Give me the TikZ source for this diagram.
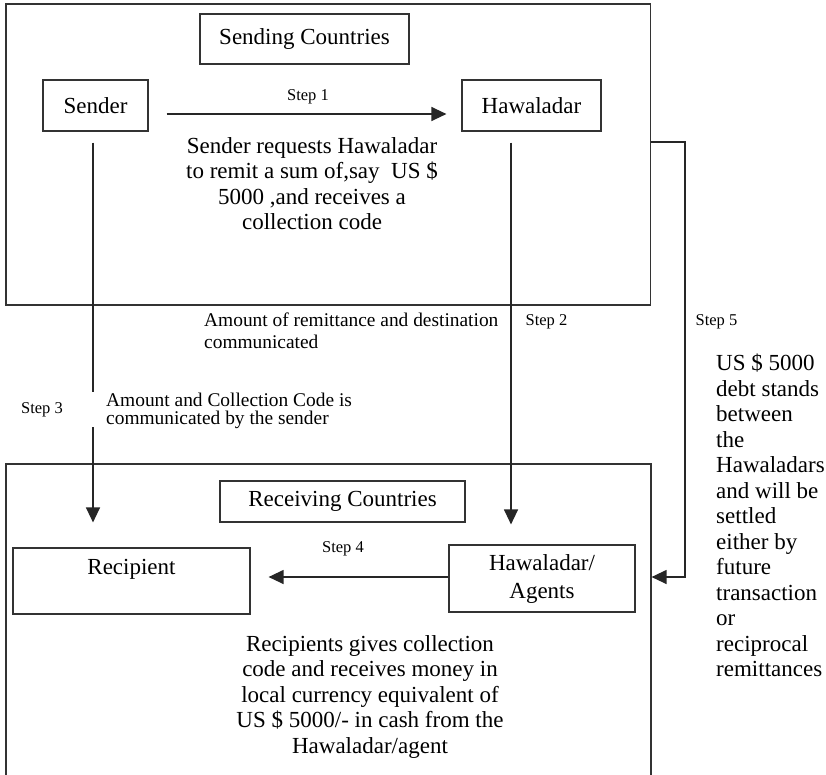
\documentclass[tikz,border=0pt]{standalone}
\usepackage{fontspec}
\setmainfont{Liberation Serif}
\usetikzlibrary{arrows.meta}
\newcommand\bigtxt{\fontsize{23}{25.5}\selectfont}
\newcommand\midtxt{\fontsize{19.4}{22}\selectfont}
\newcommand\midtighttxt{\fontsize{19.4}{18.3}\selectfont}
\newcommand\smtxt{\fontsize{16.5}{18}\selectfont}
\begin{document}
\begin{tikzpicture}[x=1pt,y=-1pt,
  box/.style={draw=black!80, line width=1.2pt, inner sep=0pt, align=center, font=\bigtxt},
  txt/.style={inner sep=0pt, font=\bigtxt},
  conn/.style={draw=black!85, line width=1.3pt},
  arr/.style={conn, -{Triangle[length=15pt,width=14pt]}},
  steplbl/.style={inner sep=0pt, font=\smtxt},
]
\useasboundingbox (0,0) rectangle (826,774);
\clip (0,0) rectangle (826,774);
\fill[white] (0,0) rectangle (826,774);

% big regions
\node[box, minimum width=644.7pt, minimum height=301pt] (sendbox) at (328.35,154.5) {};
\node[box, minimum width=645pt, minimum height=336pt] (recvbox) at (328.5,632) {};

% boxes
\node[box, minimum width=209pt, minimum height=50pt] (sendc) at (304.5,39) {Sending Countries};
\node[box, minimum width=105pt, minimum height=51pt] (sender) at (95.5,105.5) {Sender};
\node[box, minimum width=139pt, minimum height=51pt] (hawa) at (531.5,105.5) {Hawaladar};
\node[box, minimum width=245pt, minimum height=41pt] (recvc) at (342.5,501.5) {Receiving Countries};
\node[box, minimum width=237pt, minimum height=66pt] (recip) at (131.5,581) {};
\node[txt] (reciplbl) at (131.5,569) {Recipient};
\node[box, minimum width=186pt, minimum height=67pt] (agents) at (542,578.5) {Hawaladar/\\[2.5pt]Agents};

% texts
\node[txt, anchor=north, align=center] (t1) at (312,137) {Sender requests Hawaladar\\to remit a sum of,say\enspace US \$\\5000 ,and receives a\\collection code};
\node[txt, anchor=north, align=center] (t4) at (370,635) {Recipients gives collection\\code and receives money in\\local currency equivalent of\\US \$ 5000/- in cash from the\\Hawaladar/agent};
\node[txt, anchor=north west, align=left] (t5) at (716,354) {US \$ 5000\\debt stands\\between\\the\\Hawaladars\\and will be\\settled\\either by\\future\\transaction\\or\\reciprocal\\remittances};
\node[inner sep=0pt, font=\midtxt, anchor=north west, align=left] (t2) at (204,312.5) {Amount of remittance and destination\\communicated};
\node[inner sep=0pt, font=\midtighttxt, anchor=north west, align=left] (t3) at (106,392.5) {Amount and Collection Code is\\communicated by the sender};

% step labels
\node[steplbl] (s1l) at (308,97) {Step 1};
\node[steplbl] (s2l) at (546.5,322) {Step 2};
\node[steplbl] (s3l) at (42,410) {Step 3};
\node[steplbl] (s4l) at (343,549) {Step 4};
\node[steplbl] (s5l) at (716.5,322) {Step 5};

% connectors
\coordinate (y1) at (0,114);
\draw[arr, shorten <=18pt, shorten >=15pt] (sender.east |- y1) -- (hawa.west |- y1);

\coordinate (g1) at (93,392);
\coordinate (g2) at (93,427);
\draw[conn, shorten <=11pt] (sender.south -| g1) -- (g1);
\draw[arr, shorten >=25pt] (g2) -- (recip.north -| g2);

\coordinate (x2) at (511,0);
\draw[arr, shorten <=11pt, shorten >=20pt] (hawa.south -| x2) -- (agents.north -| x2);

\coordinate (y4) at (0,577);
\draw[arr, shorten >=18pt] (agents.west |- y4) -- (recip.east |- y4);

\coordinate (y5) at (0,142);
\coordinate (x5) at (685,360);
\draw[arr] (sendbox.east |- y5) -| (x5) |- (recvbox.east |- y4);
\end{tikzpicture}
\end{document}
